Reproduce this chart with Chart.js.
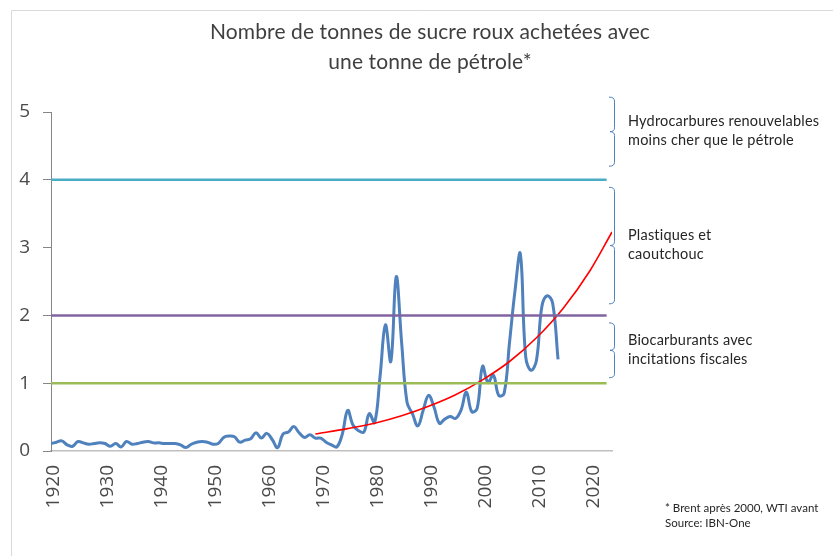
<!DOCTYPE html>
<html>
<head>
<meta charset="utf-8">
<script src="https://cdn.jsdelivr.net/npm/chart.js@4/dist/chart.umd.min.js"></script>
<style>
html,body{margin:0;padding:0;background:#fff;}
#wrap{position:relative;width:833px;height:556px;}
</style>
</head>
<body>
<div id="wrap"><canvas id="c" width="833" height="556"></canvas></div>
<script>
// ---- Data ----
const titleLines = ["Nombre de tonnes de sucre roux achetées avec", "une tonne de pétrole*"];
const ratioStartYear = 1920;
const ratioValues = [
  0.11,0.13,0.15,0.09,0.07,0.14,0.12,0.10,0.11,0.12, // 1920-1929
  0.11,0.07,0.11,0.06,0.14,0.10,0.11,0.13,0.14,0.12, // 1930-1939
  0.12,0.11,0.11,0.11,0.09,0.05,0.10,0.13,0.14,0.13, // 1940-1949
  0.10,0.11,0.20,0.22,0.21,0.13,0.16,0.18,0.27,0.19, // 1950-1959
  0.26,0.17,0.05,0.25,0.28,0.36,0.27,0.20,0.24,0.19, // 1960-1969
  0.19,0.13,0.09,0.06,0.25,0.60,0.38,0.30,0.28,0.55, // 1970-1979
  0.42,1.10,1.86,1.32,2.57,1.60,0.72,0.55,0.37,0.60, // 1980-1989
  0.82,0.65,0.41,0.47,0.51,0.48,0.60,0.87,0.58,0.63, // 1990-1999
  1.25,1.01,1.12,0.82,0.85,1.60,2.35,2.91,1.39,1.19, // 2000-2009
  1.34,2.13,2.29,2.18,1.35                            // 2010-2014
];
const trendYears  = [1969,1975,1980,1985,1990,1995,2000,2005,2010,2015,2020,2024];
const trendValues = [0.25,0.33,0.41,0.52,0.66,0.83,1.05,1.32,1.67,2.11,2.67,3.23];
const thresholdYears = [1920, 2023];
const thresholdLevels = [1, 2, 4];
const yTicks = [0,1,2,3,4,5];
const xTickYears = [1920,1930,1940,1950,1960,1970,1980,1990,2000,2010,2020];
const zoneLabels = [
  ["Hydrocarbures renouvelables", "moins cher que le pétrole"],
  ["Plastiques et", "caoutchouc"],
  ["Biocarburants avec", "incitations fiscales"]
];
const zoneRanges = [[4.20, 5.22], [2.17, 3.89], [1.08, 1.89]];
const footnoteLines = ["* Brent après 2000, WTI avant", "Source: IBN-One"];

// ---- Build datasets ----
const ratioPoints = ratioValues.map((v, i) => ({x: ratioStartYear + i, y: v}));
const trendPoints = trendYears.map((yr, i) => ({x: yr, y: trendValues[i]}));
const levelColors = {1: '#9BBB59', 2: '#8064A2', 4: '#4BACC6'};
const levelSets = thresholdLevels.map(l => ({
  data: thresholdYears.map(yr => ({x: yr, y: l})),
  borderColor: levelColors[l], borderWidth: 2.5, pointRadius: 0, tension: 0
}));

const decor = {
  id: 'decor',
  beforeDraw(chart) {
    const ctx = chart.ctx;
    ctx.save();
    ctx.strokeStyle = '#D9D9D9';
    ctx.lineWidth = 1;
    ctx.beginPath();
    ctx.moveTo(11.5, 556); ctx.lineTo(11.5, 10.5); ctx.lineTo(833, 10.5);
    ctx.stroke();
    ctx.restore();
  },
  afterDraw(chart) {
    const ctx = chart.ctx;
    const ys = chart.scales.y;
    ctx.save();
    // title
    ctx.fillStyle = '#3F3F3F';
    ctx.font = '21px Lato';
    ctx.letterSpacing = '0.1px';
    ctx.textAlign = 'center';
    ctx.textBaseline = 'middle';
    ctx.fillText(titleLines[0], 430, 32);
    ctx.fillText(titleLines[1], 430, 62);
    // brackets + labels
    ctx.strokeStyle = '#4F81BD';
    ctx.lineWidth = 1;
    zoneRanges.forEach((r, i) => {
      const top = ys.getPixelForValue(r[1]);
      const bot = ys.getPixelForValue(r[0]);
      const mid = (top + bot) / 2;
      const xe = 609, xv = 614.5, xt = 610, c = 4;
      ctx.beginPath();
      ctx.moveTo(xe, top);
      ctx.quadraticCurveTo(xv, top, xv, top + c);
      ctx.lineTo(xv, mid - c);
      ctx.quadraticCurveTo(xv, mid, xt, mid);
      ctx.quadraticCurveTo(xv, mid, xv, mid + c);
      ctx.lineTo(xv, bot - c);
      ctx.quadraticCurveTo(xv, bot, xe, bot);
      ctx.stroke();
      ctx.fillStyle = '#262626';
      ctx.font = '14.5px Lato';
      ctx.letterSpacing = '0.2px';
      ctx.textAlign = 'left';
      ctx.textBaseline = 'middle';
      const lines = zoneLabels[i];
      ctx.fillText(lines[0], 628, mid - 10);
      ctx.fillText(lines[1], 628, mid + 9);
    });
    // footnote
    ctx.fillStyle = '#262626';
    ctx.font = '11.5px Lato';
    ctx.letterSpacing = '0px';
    ctx.textAlign = 'left';
    ctx.fillText(footnoteLines[0], 665, 508);
    ctx.fillText(footnoteLines[1], 665, 523);
    ctx.restore();
  }
};

new Chart(document.getElementById('c'), {
  type: 'line',
  data: {
    datasets: [
      ...levelSets,
      {data: trendPoints, borderColor: '#FF0000', borderWidth: 1.6, pointRadius: 0, cubicInterpolationMode: 'monotone'},
      {data: ratioPoints, borderColor: '#4F81BD', borderWidth: 3, pointRadius: 0, tension: 0.4}
    ]
  },
  options: {
    responsive: false,
    animation: false,
    layout: {padding: {left: 0, right: 221, top: 112, bottom: 0}},
    plugins: {legend: {display: false}, tooltip: {enabled: false}, title: {display: false}},
    scales: {
      x: {
        type: 'linear', min: 1920, max: 2024,
        afterFit(s) { s.height = 105; },
        afterBuildTicks(s) { s.ticks = xTickYears.map(v => ({value: v})); },
        grid: {display: true, drawOnChartArea: false, drawTicks: false},
        border: {color: '#BFBFBF', width: 1.5},
        ticks: {
          maxRotation: 90, minRotation: 90, autoSkip: false, padding: 14, labelOffset: 3,
          color: '#4A4A4A', font: {family: 'Open Sans', size: 19},
          callback: v => String(v)
        }
      },
      y: {
        min: 0, max: 5,
        afterFit(s) { s.width = 51; },
        afterBuildTicks(s) { s.ticks = yTicks.map(v => ({value: v})); },
        grid: {display: true, drawOnChartArea: false, drawTicks: true, tickLength: 8, color: '#868686'},
        border: {color: '#868686', width: 1},
        ticks: {padding: 13, color: '#4A4A4A', font: {family: 'Open Sans', size: 19}}
      }
    }
  },
  plugins: [decor]
});
</script>
</body>
</html>
